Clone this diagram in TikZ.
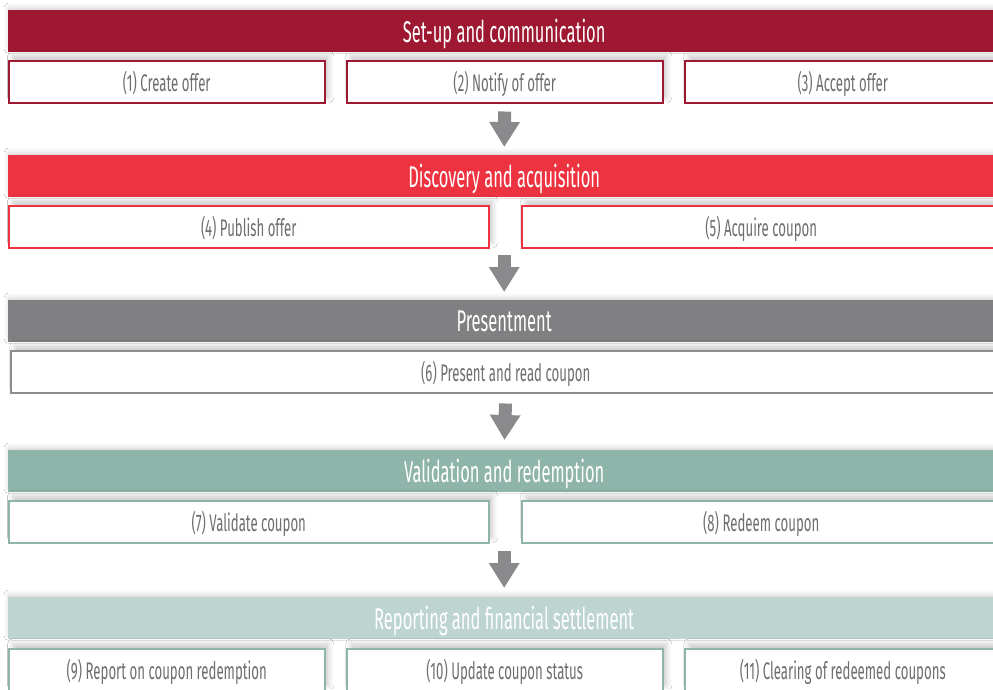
\documentclass[tikz,border=0pt]{standalone}
\usepackage{fontspec}
\setmainfont{Fira Sans}[FakeStretch=0.55]
\usetikzlibrary{arrows.meta}
\usetikzlibrary{shadows.blur,positioning}

\definecolor{setupred}{HTML}{9E1832}
\definecolor{discred}{HTML}{EE3340}
\definecolor{presgray}{HTML}{808083}
\definecolor{validteal}{HTML}{8FB4AA}
\definecolor{reportteal}{HTML}{BDD4D0}
\definecolor{textgray}{HTML}{6D6E71}
\definecolor{arrowgray}{HTML}{8A8A8C}

\begin{document}
\begin{tikzpicture}[x=1pt, y=-1pt,
    phase/.style={rectangle, anchor=north west, inner sep=0pt, minimum width=992pt, minimum height=42pt,
    text depth=0pt, text=white, font=\fontsize{30}{30}\selectfont,
    blur shadow={shadow xshift=0pt, shadow yshift=3pt, shadow blur radius=4pt, shadow opacity=15}},
    stepbox/.style={rectangle, anchor=north west, inner sep=0pt, draw, line width=1.5pt, fill=white,
    minimum height=42pt, text depth=0pt, text=textgray, font=\fontsize{24}{24}\selectfont,
    blur shadow={shadow xshift=4pt, shadow yshift=5pt, shadow blur radius=5pt, shadow opacity=20}},
    flow/.style={draw=arrowgray, line width=13pt, -{Triangle[width=29pt, length=25pt]}},
]
    \useasboundingbox [fill=white] (0,0) rectangle (993,689);

    % set-up and communication
    \node (setup) [phase, fill=setupred] at (8,10) {Set-up and communication};
    \node (create) [stepbox, draw=setupred, minimum width=316pt] at (8,60) {(1) Create offer};
    \node (notify) [stepbox, draw=setupred, minimum width=316pt] at (346,60) {(2) Notify of offer};
    \node (accept) [stepbox, draw=setupred, minimum width=316pt] at (684,60) {(3) Accept offer};

    % discovery and acquisition
    \node (discovery) [phase, fill=discred] at (8,155) {Discovery and acquisition};
    \node (publish) [stepbox, draw=discred, minimum width=480pt] at (8,205) {(4) Publish offer};
    \node (acquire) [stepbox, draw=discred, minimum width=479pt] at (521,205) {(5) Acquire coupon};

    % presentment
    \node (presentment) [phase, fill=presgray] at (8,300) {Presentment};
    \node (present) [stepbox, draw=presgray!90, minimum width=990pt] at (10,350) {(6) Present and read coupon};

    % validation and redemption
    \node (validation) [phase, fill=validteal] at (8,450) {Validation and redemption};
    \node (validate) [stepbox, draw=validteal, minimum width=480pt] at (8,500) {(7) Validate coupon};
    \node (redeem) [stepbox, draw=validteal, minimum width=479pt] at (521,500) {(8) Redeem coupon};

    % reporting and financial settlement
    \node (reporting) [phase, fill=reportteal] at (8,597) {Reporting and financial settlement};
    \node (report) [stepbox, draw=validteal, minimum width=316pt] at (8,648) {(9) Report on coupon redemption};
    \node (update) [stepbox, draw=validteal, minimum width=316pt] at (346,648) {(10) Update coupon status};
    \node (clearing) [stepbox, draw=validteal, minimum width=316pt] at (684,648) {(11) Clearing of redeemed coupons};

    \draw [flow, shorten <=8pt, shorten >=8pt] (notify.south) -- (discovery.north);
    \draw [flow, shorten <=58pt, shorten >=8pt] (discovery.south) -- (presentment.north);
    \draw [flow, shorten <=10pt, shorten >=10pt] (present.south) -- (validation.north);
    \draw [flow, shorten <=59pt, shorten >=9pt] (validation.south) -- (reporting.north);
\end{tikzpicture}
\end{document}
